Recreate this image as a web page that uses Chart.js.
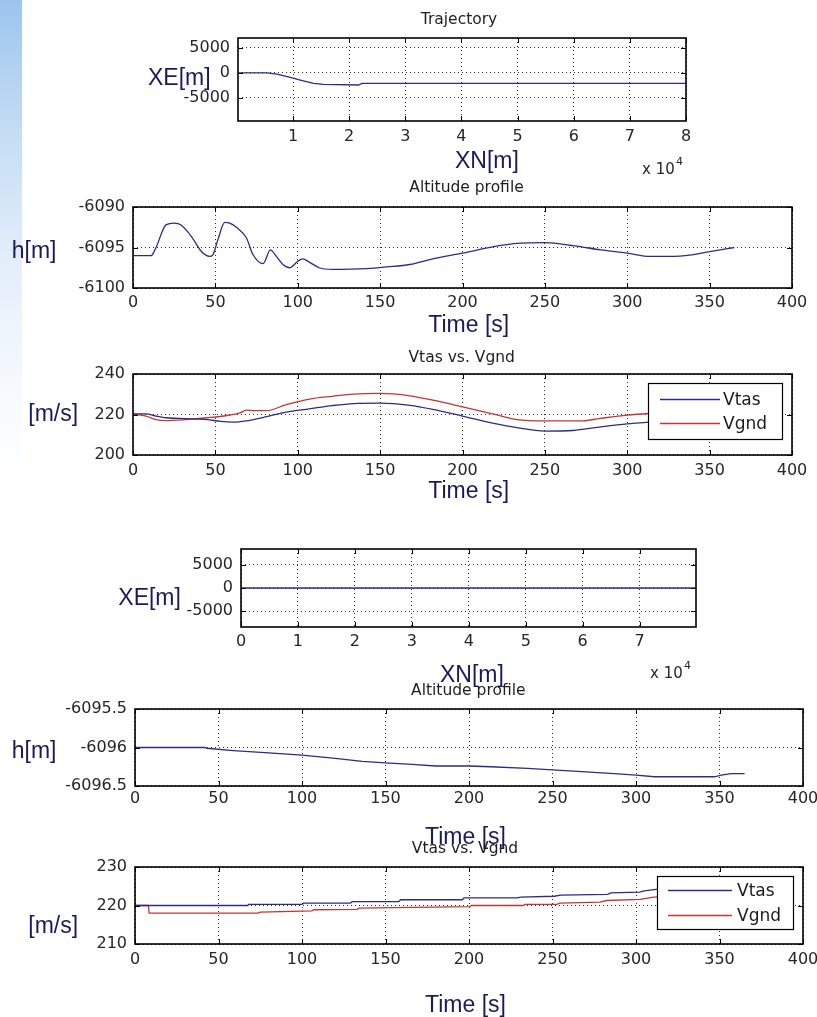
<!DOCTYPE html>
<html>
<head>
<meta charset="utf-8">
<title>Flight simulation – trajectory, altitude and speed</title>
<script src="https://cdn.jsdelivr.net/npm/chart.js@4.4.1/dist/chart.umd.min.js"></script>
<style>
  html, body { margin: 0; padding: 0; width: 817px; height: 1017px; overflow: hidden; background: #fff; }
  #strip {
    position: absolute; left: 0; top: 0; width: 22px; height: 1017px;
    background: linear-gradient(to bottom, #9cc5ee 0px, #c4dcf4 130px, #e3eefa 260px, #f5f9fe 380px, #ffffff 480px);
  }
  canvas { position: absolute; left: 0; top: 0; }
</style>
</head>
<body>
<div id="strip"></div>
<canvas id="c1" width="900" height="1017"></canvas>
<canvas id="c2" width="900" height="1017"></canvas>
<canvas id="c3" width="900" height="1017"></canvas>
<canvas id="c4" width="900" height="1017"></canvas>
<canvas id="c5" width="900" height="1017"></canvas>
<canvas id="c6" width="900" height="1017"></canvas>
<script>
// ---------- Run 1 ----------
// horizontal track: north (XN) vs east (XE) position, metres
const run1North = [200, 5370, 7150, 9520, 11300, 13670, 15440, 21670, 22280, 80000];
const run1East  = [0, 0, -260, -920, -1460, -2120, -2320, -2460, -2120, -2120];

// altitude profile, h [m] against time [s]
const run1AltTime = [0, 11, 14, 20, 25, 29, 36, 41.5, 46.5, 48.5, 51.6, 55.7, 58.7, 62.8, 68.8, 72.9, 79, 83.4, 87, 91, 95, 100, 103, 107, 113, 121, 142, 154, 168, 182, 200, 219, 233, 250, 268, 284, 300, 314, 326, 339, 350, 365];
const run1Alt = [-6096, -6096, -6095, -6092.2, -6092, -6092.2, -6093.8, -6095.5, -6096.1, -6095.9, -6094, -6091.9, -6092, -6092.5, -6093.8, -6095.9, -6097, -6095.3, -6096.1, -6097.1, -6097.5, -6096.7, -6096.4, -6096.8, -6097.5, -6097.7, -6097.6, -6097.4, -6097.1, -6096.4, -6095.7, -6094.9, -6094.5, -6094.4, -6094.8, -6095.3, -6095.7, -6096.1, -6096.1, -6095.9, -6095.5, -6095];

// true airspeed and ground speed [m/s]
const run1TasTime = [0, 8, 14, 20, 32, 45, 53, 61, 69, 81, 93, 107, 121, 134, 150, 168, 182, 200, 219, 233, 250, 267, 283, 300, 313, 340, 365];
const run1Tas = [220.3, 220.3, 219.2, 218.4, 218, 217.5, 216.6, 216.2, 216.9, 218.9, 221.2, 222.8, 224.4, 225.4, 225.6, 224.5, 222.5, 219.2, 215.6, 213.5, 211.8, 212.1, 213.8, 215.4, 216.2, 217.5, 218.5];
const run1GndTime = [0, 8, 14, 20, 32, 45, 57, 65, 69, 73, 81, 93, 107, 121, 134, 150, 168, 182, 200, 219, 233, 250, 273, 283, 300, 313, 340, 365];
const run1Gnd = [220.3, 219.2, 217.5, 217, 217.5, 218.4, 219.5, 220.8, 222.2, 221.9, 221.9, 224.9, 227.6, 229, 230.1, 230.4, 229.2, 227.1, 223.8, 220.2, 217.5, 216.9, 216.9, 218, 219.7, 220.5, 221.5, 222];

// ---------- Run 2 ----------
const run2North = [0, 79900];
const run2East  = [0, 0];

const run2AltTime = [0, 42, 43, 59, 80, 100, 120, 136, 150, 166, 180, 200, 213, 235, 250, 265, 287, 300, 311, 347, 351, 357, 365];
const run2Alt = [-6096, -6096, -6096.01, -6096.04, -6096.07, -6096.1, -6096.14, -6096.18, -6096.2, -6096.22, -6096.24, -6096.24, -6096.25, -6096.27, -6096.29, -6096.31, -6096.34, -6096.36, -6096.38, -6096.38, -6096.36, -6096.34, -6096.34];

const run2TasTime = [0, 67.5, 68, 100, 101, 129, 130, 158, 159, 196, 197, 229, 231, 251, 255, 283, 285, 302, 305, 312, 340, 365];
const run2Tas = [220, 220, 220.3, 220.3, 220.6, 220.6, 221, 221, 221.5, 221.5, 222, 222, 222.2, 222.4, 222.7, 222.9, 223.3, 223.5, 223.8, 224.2, 224.8, 225.2];
const run2GndTime = [0, 8, 8.5, 73.6, 75, 106, 107, 133, 134, 166, 200.5, 201.5, 232.5, 233.5, 252.5, 254.5, 278.5, 282.5, 302.5, 310.5, 340, 365];
const run2Gnd = [220, 220, 218, 218, 218.3, 218.6, 218.9, 219, 219.3, 219.5, 219.7, 220, 220, 220.3, 220.3, 220.6, 220.9, 221.3, 221.6, 222.2, 222.8, 223.2];

// ---------- tick values and labels ----------
const northTicks1 = [10000, 20000, 30000, 40000, 50000, 60000, 70000, 80000];
const northLabels1 = ['1', '2', '3', '4', '5', '6', '7', '8'];
const northTicks2 = [0, 10000, 20000, 30000, 40000, 50000, 60000, 70000];
const northLabels2 = ['0', '1', '2', '3', '4', '5', '6', '7'];
const eastTicks = [-5000, 0, 5000];
const eastLabels = ['-5000', '0', '5000'];
const timeTicks = [0, 50, 100, 150, 200, 250, 300, 350, 400];
const timeLabels = ['0', '50', '100', '150', '200', '250', '300', '350', '400'];
const altTicks1 = [-6100, -6095, -6090];
const altLabels1 = ['-6100', '-6095', '-6090'];
const altTicks2 = [-6096.5, -6096, -6095.5];
const altLabels2 = ['-6096.5', '-6096', '-6095.5'];
const speedTicks1 = [200, 220, 240];
const speedLabels1 = ['200', '220', '240'];
const speedTicks2 = [210, 220, 230];
const speedLabels2 = ['210', '220', '230'];

// ---------- styling ----------
const BLUE = '#2c2c88';
const RED = '#c83434';
const TICK_FONT = { family: 'DejaVu Sans', size: 16 };
const LABEL_FONT = '23px "Liberation Sans", Arial, sans-serif';
const TITLE_FONT = '15.5px "DejaVu Sans", sans-serif';
const CANVAS_W = 900, CANVAS_H = 1017;
const X_AXIS_H = 40;

const points = (xs, ys) => xs.map((x, i) => ({ x, y: ys[i] }));

function series(label, xs, ys, color, smooth) {
  return {
    label, data: points(xs, ys),
    borderColor: color, backgroundColor: color,
    borderWidth: 1.3, pointRadius: 0, fill: false,
    cubicInterpolationMode: smooth ? 'monotone' : 'default', tension: 0
  };
}

// size: fixed axis thickness, so the plot box lands where the layout asks
function axis(min, max, values, labels, pad, horizontal, size) {
  return {
    type: 'linear', min, max,
    afterFit: s => { if (horizontal) s.height = size; else s.width = size; },
    afterBuildTicks: s => { s.ticks = values.map(v => ({ value: v })); },
    ticks: {
      callback: (v, i) => labels[i], font: TICK_FONT, color: '#262626',
      padding: pad, maxRotation: 0, autoSkip: false
    },
    grid: { color: '#2a2a2a', lineWidth: 1, drawTicks: false },
    border: { display: false, dash: [1, 3] }
  };
}

// MATLAB-style axes decoration: box, inward ticks, labels and legend
const matlabAxes = {
  id: 'matlabAxes',
  afterDatasetsDraw(chart, args, o) {
    const ctx = chart.ctx, a = chart.chartArea;
    const xs = chart.scales.x, ys = chart.scales.y;
    ctx.save();
    ctx.strokeStyle = '#000';
    ctx.lineWidth = 1;
    ctx.setLineDash([]);
    const tl = 5;
    ctx.beginPath();
    xs.ticks.forEach(t => {
      const p = Math.round(xs.getPixelForValue(t.value)) + 0.5;
      ctx.moveTo(p, a.bottom); ctx.lineTo(p, a.bottom - tl);
      ctx.moveTo(p, a.top); ctx.lineTo(p, a.top + tl);
    });
    ys.ticks.forEach(t => {
      const p = Math.round(ys.getPixelForValue(t.value)) + 0.5;
      ctx.moveTo(a.left, p); ctx.lineTo(a.left + tl, p);
      ctx.moveTo(a.right, p); ctx.lineTo(a.right - tl, p);
    });
    ctx.stroke();

    if (o.legend) {
      const L = o.legend;
      ctx.fillStyle = '#fff';
      ctx.fillRect(L.x, L.y, L.w, L.h);
      ctx.strokeStyle = '#000';
      ctx.lineWidth = 1.2;
      ctx.strokeRect(L.x + 0.5, L.y + 0.5, L.w, L.h);
      ctx.font = '17px "DejaVu Sans", sans-serif';
      ctx.textBaseline = 'middle';
      ctx.textAlign = 'left';
      chart.data.datasets.forEach((ds, i) => {
        const y = L.rows[i] + 0.5;
        ctx.strokeStyle = ds.borderColor;
        ctx.lineWidth = ds.borderWidth;
        ctx.beginPath();
        ctx.moveTo(L.lineFrom, y); ctx.lineTo(L.lineTo, y);
        ctx.stroke();
        ctx.fillStyle = '#1a1a1a';
        ctx.fillText(ds.label, L.textX, y + 1);
      });
    }

    ctx.strokeStyle = '#000';
    ctx.lineWidth = 1.6;
    ctx.strokeRect(a.left, a.top, a.width, a.height);

    (o.texts || []).forEach(t => {
      ctx.font = t.font;
      ctx.fillStyle = t.color;
      ctx.textAlign = t.align || 'left';
      ctx.textBaseline = 'alphabetic';
      ctx.fillText(t.text, t.x, t.y);
    });
    ctx.restore();
  }
};

const title = (text, x, y) => ({ text, x, y, font: TITLE_FONT, color: '#1e1e1e', align: 'center' });
const label = (text, x, y) => ({ text, x, y, font: LABEL_FONT, color: '#19195f' });
const exponent = (x, y) => [
  { text: 'x 10', x, y, font: '15px "DejaVu Sans", sans-serif', color: '#262626' },
  { text: '4', x: x + 34, y: y - 9, font: '11px "DejaVu Sans", sans-serif', color: '#262626' }
];

// area = [left, top, right, bottom] of the plot box on the page
function plot(id, area, datasets, xSpec, ySpec, deco) {
  const [left, top, right, bottom] = area;
  return new Chart(document.getElementById(id), {
    type: 'line',
    data: { datasets },
    options: {
      responsive: false, animation: false, devicePixelRatio: 1,
      layout: { padding: { left: 0, top, right: CANVAS_W - right, bottom: CANVAS_H - bottom - X_AXIS_H } },
      plugins: { legend: { display: false }, tooltip: { enabled: false }, matlabAxes: deco },
      scales: {
        x: axis(...xSpec, true, X_AXIS_H),
        y: axis(...ySpec, false, left)
      }
    },
    plugins: [matlabAxes]
  });
}

// Run 1 — trajectory
plot('c1', [238, 38, 686, 121],
  [series('XE', run1North, run1East, BLUE, false)],
  [200, 80000, northTicks1, northLabels1, 6],
  [-9700, 7000, eastTicks, eastLabels, 8],
  { texts: [title('Trajectory', 459, 23.5), label('XE[m]', 148, 84.5), label('XN[m]', 455, 168), ...exponent(642, 173.5)] });

// Run 1 — altitude
plot('c2', [133, 207, 792, 288],
  [series('h', run1AltTime, run1Alt, BLUE, true)],
  [0, 400, timeTicks, timeLabels, 5],
  [-6100, -6090, altTicks1, altLabels1, 8],
  { texts: [title('Altitude profile', 466.5, 191.7), label('h[m]', 11.7, 258), label('Time [s]', 428.3, 331.5)] });

// Run 1 — speeds
plot('c3', [133, 374, 792, 455],
  [series('Vtas', run1TasTime, run1Tas, BLUE, true), series('Vgnd', run1GndTime, run1Gnd, RED, true)],
  [0, 400, timeTicks, timeLabels, 6.5],
  [200, 240, speedTicks1, speedLabels1, 8],
  { texts: [title('Vtas vs. Vgnd', 461.7, 361.7), label('[m/s]', 28.3, 421), label('Time [s]', 428.3, 497.5)],
    legend: { x: 648, y: 383, w: 134, h: 56, rows: [399, 423], lineFrom: 660, lineTo: 720, textX: 723 } });

// Run 2 — trajectory
plot('c4', [241, 549, 696, 627],
  [series('XE', run2North, run2East, BLUE, false)],
  [0, 79900, northTicks2, northLabels2, 5],
  [-8400, 8400, eastTicks, eastLabels, 8],
  { texts: [label('XE[m]', 118.3, 605), label('XN[m]', 440, 681.5), ...exponent(650, 678.3)] });

// Run 2 — altitude
plot('c5', [135, 709, 803, 786],
  [series('h', run2AltTime, run2Alt, BLUE, false)],
  [0, 400, timeTicks, timeLabels, 3],
  [-6096.5, -6095.5, altTicks2, altLabels2, 8],
  { texts: [title('Altitude profile', 468.3, 695), label('h[m]', 11.7, 758), label('Time [s]', 425, 844)] });

// Run 2 — speeds
plot('c6', [135, 867, 803, 944],
  [series('Vtas', run2TasTime, run2Tas, BLUE, false), series('Vgnd', run2GndTime, run2Gnd, RED, false)],
  [0, 400, timeTicks, timeLabels, 6],
  [210, 230, speedTicks2, speedLabels2, 8],
  { texts: [title('Vtas vs. Vgnd', 465, 853.3), label('[m/s]', 28.3, 933), label('Time [s]', 425, 1011.5)],
    legend: { x: 657, y: 876, w: 136, h: 53, rows: [890, 915], lineFrom: 668, lineTo: 732, textX: 737 } });
</script>
</body>
</html>
